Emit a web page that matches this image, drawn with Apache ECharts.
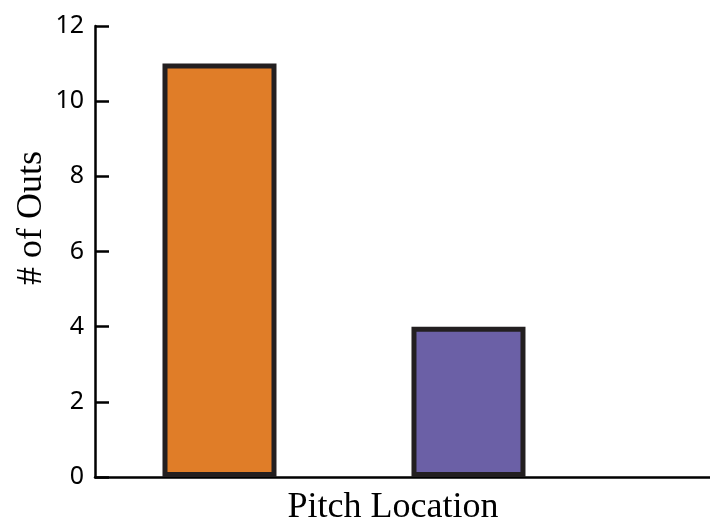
<!DOCTYPE html>
<html>
<head>
<meta charset="utf-8">
<script src="https://cdn.jsdelivr.net/npm/echarts@6/dist/echarts.min.js"></script>
<style>html,body{margin:0;padding:0;background:#fff;}#chart{width:710px;height:526px;}</style>
</head>
<body>
<div id="chart"></div>
<script>
var categories = ['A', 'B'];
var outs = [11, 4];
var barColors = ['#E07D28', '#6B60A6'];
var yTicks = [0, 2, 4, 6, 8, 10, 12];
var xTitle = 'Pitch Location';
var yTitle = '# of Outs';

var chart = echarts.init(document.getElementById('chart'));
var data = categories.map(function (c, i) {
  return { name: c, value: [i + 0.5, outs[i]], itemStyle: { color: barColors[i] } };
});
chart.setOption({
  animation: false,
  grid: { left: 95, top: 26, right: 0, bottom: 49 },
  xAxis: {
    type: 'value', min: 0, max: 2.47,
    axisLine: { show: true, lineStyle: { color: '#000', width: 2.5 } },
    axisTick: { show: false }, axisLabel: { show: false }, splitLine: { show: false }
  },
  yAxis: {
    type: 'value', min: yTicks[0], max: yTicks[yTicks.length - 1], interval: 2,
    axisLine: { show: true, lineStyle: { color: '#000', width: 2.5 } },
    axisTick: { show: true, inside: true, length: 14, lineStyle: { color: '#000', width: 2.5 } },
    axisLabel: { color: '#000', fontFamily: 'Noto Sans', fontSize: 25, margin: 11 },
    splitLine: { show: false }
  },
  series: [{
    type: 'bar', data: data, barWidth: 114,
    itemStyle: { borderColor: '#231F20', borderWidth: 5 }
  }],
  graphic: [
    { type: 'text', x: 393, y: 508, style: { text: xTitle, font: '36px "Liberation Serif"', fill: '#000', align: 'center', verticalAlign: 'middle' } },
    { type: 'text', x: 32, y: 218, rotation: Math.PI / 2, style: { text: yTitle, font: '36px "Liberation Serif"', fill: '#000', align: 'center', verticalAlign: 'middle' } }
  ]
});
</script>
</body>
</html>
